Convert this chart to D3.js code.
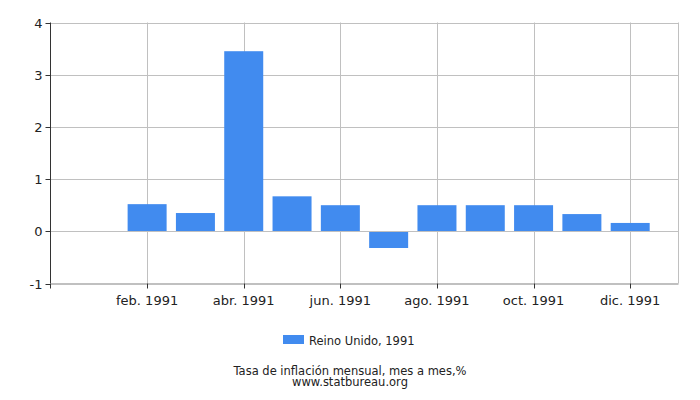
<!DOCTYPE html>
<meta charset="utf-8">
<style>
  body { margin: 0; background: #fff; }
  text { font-family: "DejaVu Sans", sans-serif; fill: #222; }
</style>
<script src="https://d3js.org/d3.v7.min.js"></script>
<div id="chart"></div>
<script>
// month index 1..12, January has no bar
var months = [2, 3, 4, 5, 6, 7, 8, 9, 10, 11, 12];
var values = [0.52, 0.35, 3.45, 0.67, 0.5, -0.32, 0.5, 0.5, 0.5, 0.33, 0.16];
var tickMonths = [2, 4, 6, 8, 10, 12];
var tickLabels = ["feb. 1991", "abr. 1991", "jun. 1991", "ago. 1991", "oct. 1991", "dic. 1991"];
var yTicks = [-1, 0, 1, 2, 3, 4];
var seriesName = "Reino Unido, 1991";
var title = "Tasa de inflación mensual, mes a mes,%";
var source = "www.statbureau.org";

var width = 700, height = 400;
var plotL = 50.5, plotR = 678.5, plotT = 22.5, plotB = 283.5;

var svg = d3.select("#chart").append("svg")
  .attr("width", width)
  .attr("height", height);

var x = d3.scaleLinear().domain([0, 13]).range([plotL, plotR]);
var y = d3.scaleLinear().domain([-1, 4]).range([plotB, plotT]);
var barW = 39;

// grid
svg.selectAll(".hgrid").data(yTicks).enter().append("line")
  .attr("x1", plotL).attr("x2", plotR)
  .attr("y1", d => Math.round(y(d)) + 0.5).attr("y2", d => Math.round(y(d)) + 0.5)
  .attr("stroke", "#c0c0c0").attr("stroke-width", 1);

svg.selectAll(".vgrid").data(tickMonths).enter().append("line")
  .attr("x1", d => Math.round(x(d)) + 0.5).attr("x2", d => Math.round(x(d)) + 0.5)
  .attr("y1", plotT).attr("y2", plotB)
  .attr("stroke", "#c0c0c0").attr("stroke-width", 1);

// right border
svg.append("line")
  .attr("x1", plotR).attr("x2", plotR).attr("y1", plotT).attr("y2", plotB)
  .attr("stroke", "#c0c0c0");

// bars
svg.selectAll(".bar").data(values).enter().append("rect")
  .attr("x", (d, i) => x(months[i]) - barW / 2)
  .attr("y", d => y(Math.max(0, d)))
  .attr("width", barW)
  .attr("height", d => Math.abs(y(d) - y(0)))
  .attr("fill", "#418bef");

// zero line over bars
svg.append("line")
  .attr("x1", plotL).attr("x2", plotR)
  .attr("y1", Math.round(y(0)) + 0.5).attr("y2", Math.round(y(0)) + 0.5)
  .attr("stroke", "#c0c0c0");

// y axis
var yAxis = svg.append("g");
yAxis.append("line")
  .attr("x1", plotL).attr("x2", plotL).attr("y1", plotT).attr("y2", plotB)
  .attr("stroke", "#333");
yAxis.selectAll(".yt").data(yTicks).enter().append("line")
  .attr("x1", plotL - 5).attr("x2", plotL)
  .attr("y1", d => Math.round(y(d)) + 0.5).attr("y2", d => Math.round(y(d)) + 0.5)
  .attr("stroke", "#333");
yAxis.selectAll(".yl").data(yTicks).enter().append("text")
  .attr("x", plotL - 8).attr("y", d => y(d) + 5)
  .attr("text-anchor", "end")
  .style("font-size", "13px")
  .text(d => d);

// x axis
var xAxis = svg.append("g");
xAxis.append("line")
  .attr("x1", plotL).attr("x2", plotR).attr("y1", plotB).attr("y2", plotB)
  .attr("stroke", "#c0c0c0");
xAxis.selectAll(".xt").data(tickMonths).enter().append("line")
  .attr("x1", d => Math.round(x(d)) + 0.5).attr("x2", d => Math.round(x(d)) + 0.5)
  .attr("y1", plotB).attr("y2", plotB + 5)
  .attr("stroke", "#333");
xAxis.append("line")
  .attr("x1", plotL).attr("x2", plotL).attr("y1", plotB).attr("y2", plotB + 5)
  .attr("stroke", "#333");
xAxis.selectAll(".xl").data(tickMonths).enter().append("text")
  .attr("x", d => x(d)).attr("y", plotB + 21)
  .attr("text-anchor", "middle")
  .style("font-size", "13px")
  .text((d, i) => tickLabels[i]);

// legend
svg.append("rect")
  .attr("x", 283).attr("y", 335).attr("width", 21).attr("height", 9)
  .attr("fill", "#418bef");
svg.append("text")
  .attr("x", 309).attr("y", 345)
  .style("font-size", "11.5px")
  .text(seriesName);

svg.append("text")
  .attr("x", 350).attr("y", 375)
  .attr("text-anchor", "middle")
  .style("font-size", "11.5px")
  .text(title);
svg.append("text")
  .attr("x", 350).attr("y", 386)
  .attr("text-anchor", "middle")
  .style("font-size", "11.5px")
  .text(source);
</script>
